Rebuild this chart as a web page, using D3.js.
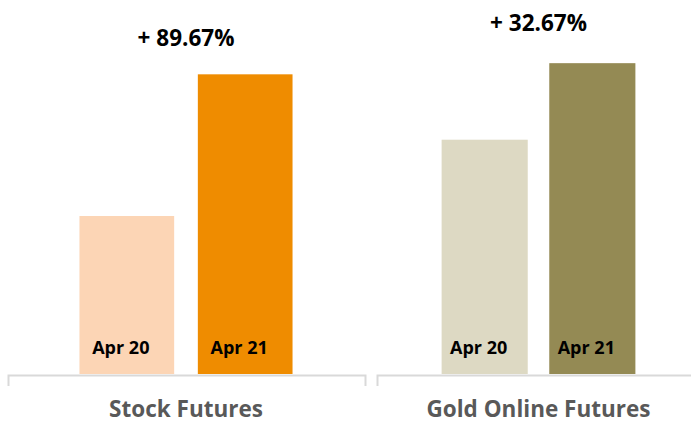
<!DOCTYPE html>
<html>
<head>
<meta charset="utf-8">
<script src="https://cdn.jsdelivr.net/npm/d3@7"></script>
<style>
  body { margin: 0; background: #fff; }
  text { font-family: "Open Sans", Lato, sans-serif; font-weight: bold; }
</style>
</head>
<body>
<div id="chart"></div>
<script>
// data: values indexed to Apr 20 = 100
const periods = ["Apr 20", "Apr 21"];
const stockValues = [100, 189.67];
const goldValues = [100, 132.67];
const categories = ["Stock Futures", "Gold Online Futures"];
const changeLabels = ["+ 89.67%", "+ 32.67%"];

const width = 691, height = 424;
const baseline = 374;

const svg = d3.select("#chart").append("svg")
    .attr("width", width)
    .attr("height", height);

const panels = [
    {name: categories[0], label: changeLabels[0], values: stockValues,
     colors: ["#FCD5B5", "#EF8C00"], x0: 8, x1: 365, bars: [70, 302], yMax: 200, top: 58, labelY: 46},
    {name: categories[1], label: changeLabels[1], values: goldValues,
     colors: ["#DDD9C3", "#948A54"], x0: 377, x1: 700, bars: [433, 644], yMax: 140, top: 46, labelY: 31}
];

panels.forEach(function(p) {
    let g = svg.append("g");

    let x = d3.scaleBand()
        .domain(periods)
        .range(p.bars)
        .paddingInner(0.2)
        .paddingOuter(0.08);

    let y = d3.scaleLinear()
        .domain([0, p.yMax])
        .range([baseline, p.top]);

    let data = periods.map(function(d, i) { return {period: d, value: p.values[i], color: p.colors[i]}; });

    g.selectAll(".bar")
        .data(data)
        .enter().append("rect")
        .attr("class", "bar")
        .attr("x", function(d) { return x(d.period); })
        .attr("y", function(d) { return y(d.value); })
        .attr("width", x.bandwidth())
        .attr("height", function(d) { return baseline - y(d.value); })
        .attr("fill", function(d) { return d.color; });

    g.selectAll(".plabel")
        .data(data)
        .enter().append("text")
        .attr("class", "plabel")
        .attr("x", function(d) { return x(d.period) + x.bandwidth() / 2 - 6; })
        .attr("y", baseline - 20)
        .attr("text-anchor", "middle")
        .attr("font-size", 18)
        .attr("fill", "#000")
        .text(function(d) { return d.period; });

    // category axis (bracket with outer ticks)
    let xAxis = d3.scaleLinear().domain([0, 1]).range([p.x0, p.x1]);
    let axisG = g.append("g")
        .attr("transform", "translate(0," + (baseline + 1) + ")")
        .call(d3.axisBottom(xAxis).tickValues([]).tickSizeOuter(11));
    axisG.select(".domain")
        .attr("stroke", "#D9D9D9")
        .attr("stroke-width", 2);

    g.append("text")
        .attr("x", (p.bars[0] + p.bars[1]) / 2)
        .attr("y", 417)
        .attr("text-anchor", "middle")
        .attr("font-size", 22.5)
        .attr("fill", "#595959")
        .text(p.name);

    g.append("text")
        .attr("x", (p.bars[0] + p.bars[1]) / 2)
        .attr("y", p.labelY)
        .attr("text-anchor", "middle")
        .attr("font-size", 22.5)
        .attr("fill", "#000")
        .text(p.label);
});
</script>
</body>
</html>
